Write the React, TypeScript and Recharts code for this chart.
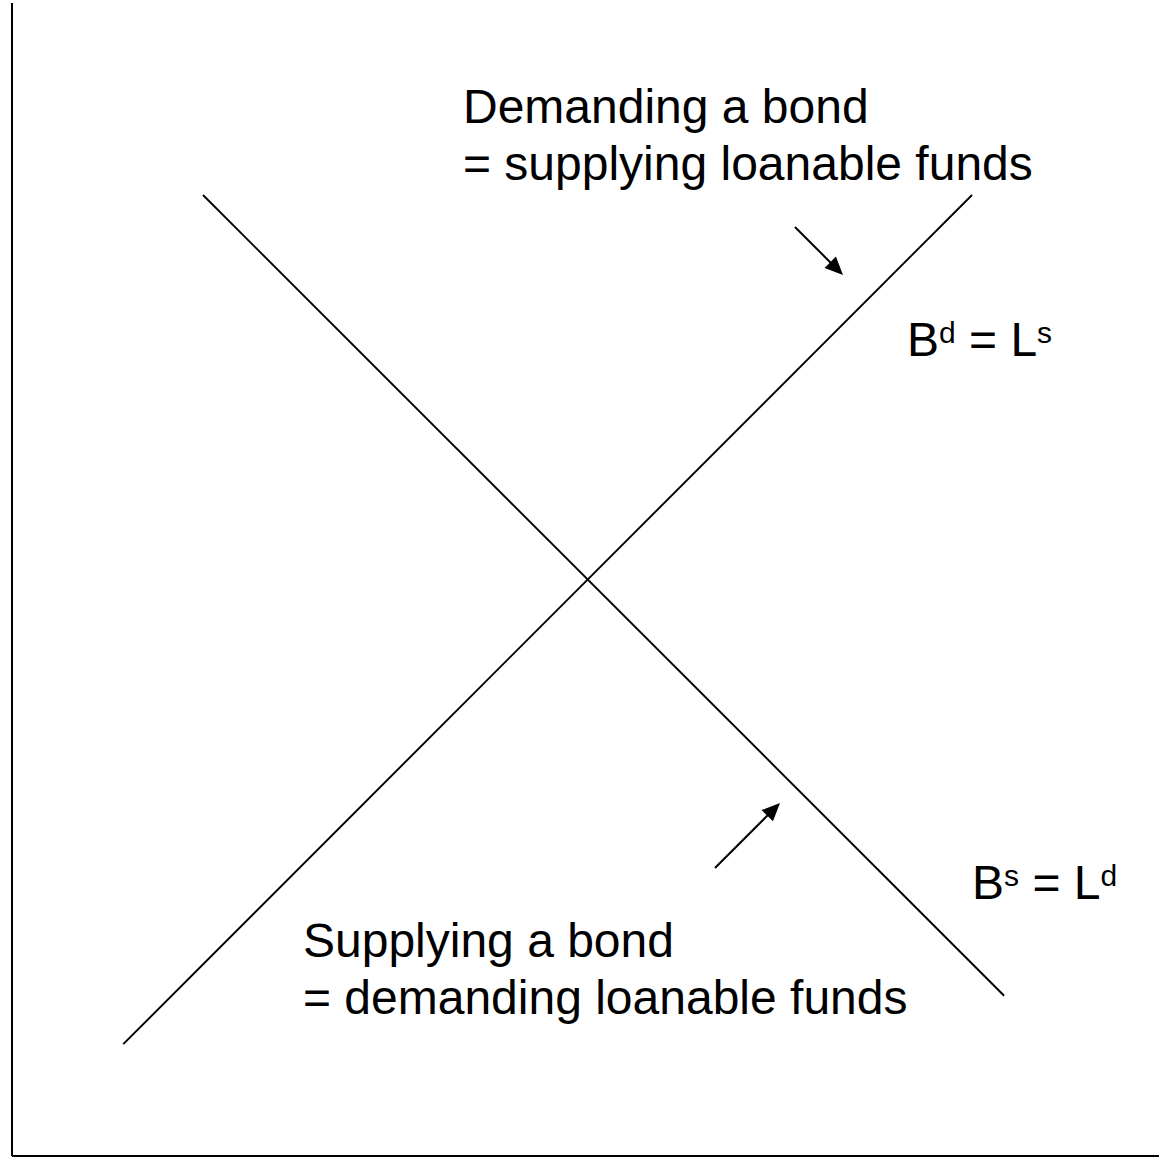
import React from 'react';
import { LineChart, Line, XAxis, YAxis, ReferenceLine, ReferenceDot } from 'recharts';

// Conceptual diagram: both axes run 0..100 (unitless)
const bondDemandLoanSupply = [
  { q: 9.7, r: 9.7 },
  { q: 83.7, r: 83.35 },
];
const bondSupplyLoanDemand = [
  { q: 16.65, r: 83.35 },
  { q: 86.5, r: 13.9 },
];
const arrowFrom = [
  { x: 68.26, y: 80.57 },
  { x: 61.29, y: 24.98 },
];
const arrowTo = [
  { x: 72.45, y: 76.41 },
  { x: 66.96, y: 30.62 },
];
const noteTexts = [
  'Demanding a bond',
  '= supplying loanable funds',
  'Supplying a bond',
  '= demanding loanable funds',
];
const noteX = [39.32, 39.32, 25.37, 25.37];
const noteY = [89.59, 84.65, 17.26, 12.32];
const curveBase = ['B', 'B'];
const curveSup1 = ['d', 's'];
const curveMid = [' = L', ' = L'];
const curveSup2 = ['s', 'd'];
const curveX = [78.03, 83.7];
const curveY = [69.38, 22.29];

const FONT = "'Liberation Sans', Arial, sans-serif";

const ArrowShape = (props: any) => {
  const { x1, y1, x2, y2 } = props;
  const dx = x2 - x1;
  const dy = y2 - y1;
  const len = Math.sqrt(dx * dx + dy * dy) || 1;
  const ux = dx / len;
  const uy = dy / len;
  const head = 18;
  const half = 8;
  const bx = x2 - ux * head;
  const by = y2 - uy * head;
  const px = -uy;
  const py = ux;
  return (
    <g>
      <line x1={x1} y1={y1} x2={bx + ux * 2} y2={by + uy * 2} stroke="#000" strokeWidth={2} />
      <polygon
        points={`${x2},${y2} ${bx + px * half},${by + py * half} ${bx - px * half},${by - py * half}`}
        fill="#000"
      />
    </g>
  );
};

export default function App() {
  return (
    <div>
      <style>{'body{margin:0}'}</style>
      <LineChart
        width={1159}
        height={1157}
        margin={{ top: 3, right: 0, bottom: 1, left: 12 }}
        style={{ background: '#fff' }}
      >
        <XAxis type="number" dataKey="q" domain={[0, 100]} allowDataOverflow hide />
        <YAxis type="number" dataKey="r" domain={[0, 100]} allowDataOverflow hide />
        <ReferenceLine x={0} stroke="#000" strokeWidth={2} ifOverflow="visible" />
        <ReferenceLine y={0} stroke="#000" strokeWidth={2} ifOverflow="visible" />
        <Line
          data={bondDemandLoanSupply}
          dataKey="r"
          type="linear"
          stroke="#000"
          strokeWidth={1.9}
          dot={false}
          activeDot={false}
          isAnimationActive={false}
        />
        <Line
          data={bondSupplyLoanDemand}
          dataKey="r"
          type="linear"
          stroke="#000"
          strokeWidth={1.9}
          dot={false}
          activeDot={false}
          isAnimationActive={false}
        />
        {arrowFrom.map((a, i) => (
          <ReferenceLine
            key={'arr' + i}
            segment={[a, arrowTo[i]]}
            ifOverflow="visible"
            shape={ArrowShape}
          />
        ))}
        {noteTexts.map((t, i) => (
          <ReferenceDot
            key={'note' + i}
            x={noteX[i]}
            y={noteY[i]}
            r={0}
            ifOverflow="visible"
            shape={(p: any) => (
              <text
                x={p.cx}
                y={p.cy}
                fontSize={48}
                fontFamily={FONT}
                fill="#000"
                style={{ whiteSpace: 'pre' }}
              >
                {t}
              </text>
            )}
          />
        ))}
        {curveBase.map((b, i) => (
          <ReferenceDot
            key={'curve' + i}
            x={curveX[i]}
            y={curveY[i]}
            r={0}
            ifOverflow="visible"
            shape={(p: any) => (
              <text
                x={p.cx}
                y={p.cy}
                fontSize={48}
                fontFamily={FONT}
                fill="#000"
                style={{ whiteSpace: 'pre' }}
              >
                <tspan>{b}</tspan>
                <tspan fontSize={30} dy={-13}>{curveSup1[i]}</tspan>
                <tspan dy={13}>{curveMid[i]}</tspan>
                <tspan fontSize={30} dy={-13}>{curveSup2[i]}</tspan>
              </text>
            )}
          />
        ))}
      </LineChart>
    </div>
  );
}
